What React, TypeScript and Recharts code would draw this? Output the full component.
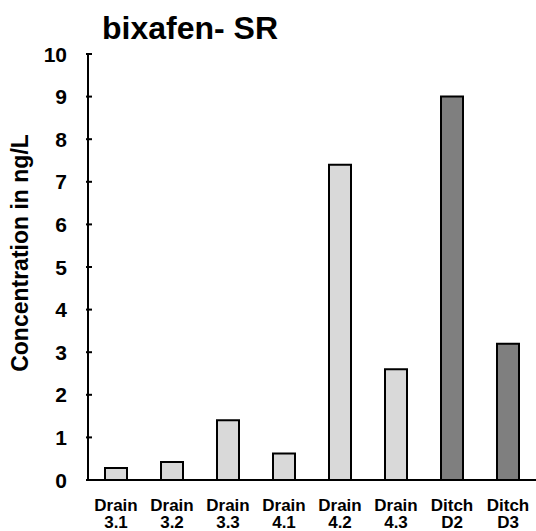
import { BarChart, Bar, XAxis, YAxis, Cell } from 'recharts';

const categories = ['Drain 3.1', 'Drain 3.2', 'Drain 3.3', 'Drain 4.1', 'Drain 4.2', 'Drain 4.3', 'Ditch D2', 'Ditch D3'];
const concentrations = [0.28, 0.42, 1.4, 0.62, 7.4, 2.6, 9.0, 3.2];
const siteTypes = ['drain', 'drain', 'drain', 'drain', 'drain', 'drain', 'ditch', 'ditch'];
const yTicks = [0, 1, 2, 3, 4, 5, 6, 7, 8, 9, 10];

const FONT = '"Liberation Sans", Arial, sans-serif';

const chartData = categories.map((name, i) => ({ name, value: concentrations[i], type: siteTypes[i] }));

const YTick = ({ x, y, payload }: any) => (
    <g>
        <line x1={x} y1={y} x2={x + 6} y2={y} stroke="#000" strokeWidth={2} />
        <text x={x - 19} y={y} dy="0.36em" textAnchor="end" fontFamily={FONT} fontWeight="bold" fontSize={21} fill="#000">
            {payload.value}
        </text>
    </g>
);

// two-line category label: "Drain" / "3.1"
const XTick = ({ x, y, payload }: any) => {
    const [first, second] = String(payload.value).split(' ');
    return (
        <text textAnchor="middle" fontFamily={FONT} fontWeight="bold" fontSize={17} fill="#000">
            <tspan x={x} y={y + 29}>{first}</tspan>
            <tspan x={x} y={y + 46}>{second}</tspan>
        </text>
    );
};

const App = () => {
    return (
        <div style={{ position: 'absolute', top: 0, left: 0, width: 536, height: 531, background: '#fff' }}>
            <div
                style={{
                    position: 'absolute',
                    top: 10,
                    left: 0,
                    width: 380,
                    textAlign: 'center',
                    fontFamily: FONT,
                    fontWeight: 'bold',
                    fontSize: 32,
                    lineHeight: '37px',
                    color: '#000',
                }}
            >
                bixafen- SR
            </div>
            <BarChart width={536} height={531} data={chartData} margin={{ top: 54, right: 0, left: 0, bottom: 0 }}>
                <XAxis
                    dataKey="name"
                    height={51}
                    tickLine={false}
                    tickSize={0}
                    axisLine={{ stroke: '#000', strokeWidth: 2 }}
                    tick={<XTick />}
                    interval={0}
                />
                <YAxis
                    width={88}
                    domain={[0, 10]}
                    ticks={yTicks}
                    interval={0}
                    tickLine={false}
                    tickSize={0}
                    axisLine={{ stroke: '#000', strokeWidth: 2 }}
                    tick={<YTick />}
                    label={{
                        content: () => (
                            <text
                                x={28}
                                y={253}
                                transform="rotate(-90 28 253)"
                                textAnchor="middle"
                                fontFamily={FONT}
                                fontWeight="bold"
                                fontSize={23}
                                fill="#000"
                            >
                                Concentration in ng/L
                            </text>
                        ),
                    }}
                />
                <Bar dataKey="value" barSize={22} stroke="#000" strokeWidth={2} isAnimationActive={false}>
                    {chartData.map((d, i) => (
                        <Cell key={i} fill={d.type === 'ditch' ? '#7f7f7f' : '#d9d9d9'} />
                    ))}
                </Bar>
            </BarChart>
        </div>
    );
};

export default App;
